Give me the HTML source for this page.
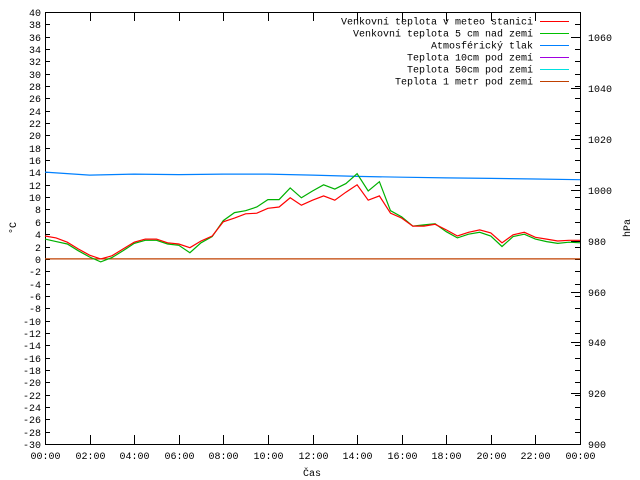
<!DOCTYPE html>
<html><head><meta charset="utf-8"><style>
html,body{margin:0;padding:0;background:#fff;}
svg{display:block;font-family:"Liberation Mono",monospace;font-size:10px;}
</style></head><body>
<svg id="c" width="640" height="480" viewBox="0 0 640 480">
<rect x="0" y="0" width="640" height="480" fill="#fff"/>
<g id="axes"></g><g id="series"></g><g id="legend"></g>
</svg>
<script>
const hours = [0,0.5,1,1.5,2,2.5,3,3.5,4,4.5,5,5.5,6,6.5,7,7.5,8,8.5,9,9.5,10,10.5,11,11.5,12,12.5,13,13.5,14,14.5,15,15.5,16,16.5,17,17.5,18,18.5,19,19.5,20,20.5,21,21.5,22,22.5,23,23.5,24];
const tempStation = [3.7,3.4,2.7,1.6,0.6,0,0.5,1.6,2.7,3.2,3.2,2.6,2.4,1.8,2.9,3.7,6,6.6,7.3,7.4,8.2,8.4,9.9,8.7,9.5,10.2,9.5,10.8,12,9.5,10.2,7.4,6.6,5.3,5.3,5.6,4.7,3.7,4.3,4.7,4.2,2.6,3.9,4.3,3.5,3.2,2.9,3,3];
const temp5cm = [3.2,2.8,2.4,1.3,0.3,-0.5,0.2,1.3,2.5,3.0,3.0,2.4,2.2,1.0,2.6,3.6,6.2,7.5,7.8,8.4,9.6,9.6,11.5,9.9,11.0,12.0,11.3,12.2,13.8,11.0,12.5,7.8,6.8,5.3,5.5,5.7,4.4,3.4,4.0,4.3,3.7,2.0,3.6,4.0,3.2,2.8,2.5,2.7,2.6];
const pressHours = [0,2,4,6,8,10,12,14,16,18,20,22,24];
const pressure = [1007.0,1005.8,1006.2,1006.0,1006.2,1006.2,1005.8,1005.3,1005.0,1004.7,1004.5,1004.3,1004.0];
const soil1m = [0,0];
const soil1mHours = [0,24];
const xTickLabels = ["00:00","02:00","04:00","06:00","08:00","10:00","12:00","14:00","16:00","18:00","20:00","22:00","00:00"];
const yTicks = [-30,-28,-26,-24,-22,-20,-18,-16,-14,-12,-10,-8,-6,-4,-2,0,2,4,6,8,10,12,14,16,18,20,22,24,26,28,30,32,34,36,38,40];
const y2Ticks = [900,920,940,960,980,1000,1020,1040,1060];

const L=45,R=580,T=12,B=444;
const xs=h=>L+(R-L)*h/24;
const ys=v=>B-(B-T)*(v+30)/70;
const y2s=v=>B-(B-T)*(v-900)/170;
const NS="http://www.w3.org/2000/svg";
function mk(tag,attrs,parent){const e=document.createElementNS(NS,tag);for(const k in attrs)e.setAttribute(k,attrs[k]);parent.appendChild(e);return e;}
const ax=document.getElementById('axes'),se=document.getElementById('series'),lg=document.getElementById('legend');

const frame=mk('rect',{x:L+0.5,y:T+0.5,width:R-L,height:B-T,fill:'none',stroke:'#000','stroke-width':1,'shape-rendering':'crispEdges'},ax);



yTicks.forEach(v=>{
  const y=Math.round(ys(v))+0.5;
  mk('line',{x1:L,x2:L+5,y1:y,y2:y,stroke:'#000','shape-rendering':'crispEdges'},ax);
  mk('line',{x1:R-5,x2:R,y1:y,y2:y,stroke:'#000','shape-rendering':'crispEdges'},ax);
  const t=mk('text',{x:L-4,y:y+3.5,'text-anchor':'end'},ax);
  t.textContent=v;
  
  
});
y2Ticks.forEach(v=>{
  const y=Math.round(y2s(v))+0.5;
  mk('line',{x1:R-9,x2:R,y1:y,y2:y,stroke:'#000','shape-rendering':'crispEdges'},ax);
  const t=mk('text',{x:R+8,y:y+3.5},ax);
  t.textContent=v;
  
  
});
xTickLabels.forEach((lab,i)=>{
  const x=Math.round(xs(i*2))+0.5;
  mk('line',{x1:x,x2:x,y1:B-9,y2:B,stroke:'#000','shape-rendering':'crispEdges'},ax);
  mk('line',{x1:x,x2:x,y1:T,y2:T+9,stroke:'#000','shape-rendering':'crispEdges'},ax);
  const t=mk('text',{x:x,y:B+15,'text-anchor':'middle'},ax);
  t.textContent=lab;
  
  
});
let t=mk('text',{x:312,y:476,'text-anchor':'middle'},ax);t.textContent='Čas';


t=mk('text',{x:16,y:228,'text-anchor':'middle',transform:'rotate(-90 16 228)'},ax);t.textContent='°C';


t=mk('text',{x:630,y:228,'text-anchor':'middle',transform:'rotate(-90 630 228)'},ax);t.textContent='hPa';



function line(xa,ya,fx,fy,color,name){
  const p=mk('polyline',{points:xa.map((h,i)=>fx(h).toFixed(1)+','+fy(ya[i]).toFixed(1)).join(' '),fill:'none',stroke:color,'stroke-width':1.2},se);
  
  
}
line(soil1mHours,soil1m,xs,ys,'#c04000','soil-1m-line');
line(pressHours,pressure,xs,y2s,'#0080ff','pressure-line');
line(hours,temp5cm,xs,ys,'#00b000','temp-5cm-line');
line(hours,tempStation,xs,ys,'#ff0000','temp-station-line');

const leg=[["Venkovní teplota v meteo stanici","#ff0000"],["Venkovní teplota 5 cm nad zemí","#00c000"],["Atmosférický tlak","#0080ff"],["Teplota 10cm pod zemí","#a000e0"],["Teplota 50cm pod zemí","#00e0e0"],["Teplota 1 metr pod zemí","#c04000"]];
leg.forEach((d,i)=>{
  const y=21+i*12;
  const tx=mk('text',{x:533,y:y+3.5,'text-anchor':'end'},lg);tx.textContent=d[0];
  
  
  const ln=mk('line',{x1:540,x2:569,y1:y+0.5,y2:y+0.5,stroke:d[1],'stroke-width':1,'shape-rendering':'crispEdges'},lg);
  
  
});
</script>
</body></html>
